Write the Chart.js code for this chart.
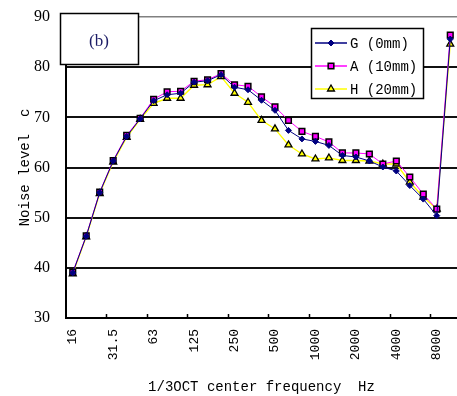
<!DOCTYPE html>
<html>
<head>
<meta charset="utf-8">
<script src="https://cdn.jsdelivr.net/npm/chart.js@4"></script>
<style>
  html, body { margin: 0; padding: 0; background: #fff; }
  canvas { display: block; }
</style>
</head>
<body>
<canvas id="c" width="457" height="396"></canvas>
<script>
// ---- data ----
const freqLabels = ['16','20','25','31.5','40','50','63','80','100','125','160','200','250','315','400','500','630','800','1000','1250','1600','2000','2500','3150','4000','5000','6300','8000','10000'];
const labelEvery = 3;
const G_0mm  = [39.0, 46.3, 55.0, 61.3, 66.2, 69.7, 73.3, 74.5, 74.8, 77.0, 77.3, 78.5, 76.0, 75.5, 73.4, 71.4, 67.4, 65.7, 65.2, 64.4, 62.4, 62.1, 61.3, 60.1, 59.3, 56.4, 53.7, 50.4, 85.6];
const A_10mm = [39.1, 46.4, 55.1, 61.4, 66.4, 69.8, 73.6, 75.1, 75.2, 77.2, 77.5, 78.7, 76.5, 76.2, 74.1, 72.1, 69.4, 67.2, 66.2, 65.1, 62.9, 62.9, 62.7, 60.7, 61.3, 58.1, 54.7, 51.7, 86.4];
const H_20mm = [38.8, 46.2, 54.8, 61.1, 66.0, 69.6, 72.8, 73.8, 73.8, 76.4, 76.5, 78.1, 74.8, 73.0, 69.4, 67.7, 64.5, 62.7, 61.7, 61.9, 61.4, 61.4, 61.3, 60.7, 60.7, 57.1, 54.1, 51.7, 84.6];
const seriesNames = ['G (0mm)', 'A (10mm)', 'H (20mm)'];
const yMin = 30, yMax = 90, yStep = 10;
const yTitle = 'Noise level  c';
const xTitle = '1/3OCT center frequency  Hz';
const panelLabel = '(b)';

const monoFont = '"Liberation Mono", "DejaVu Sans Mono", monospace';

// inward tick marks every 3 bands on the x axis
const xTickPlugin = {
  id: 'xTicks',
  afterDraw(chart) {
    const sx = chart.scales.x, ctx = chart.ctx;
    ctx.save();
    ctx.strokeStyle = '#000';
    ctx.lineWidth = 1.5;
    for (let k = labelEvery; k < freqLabels.length; k += labelEvery) {
      const x = Math.round((sx.getPixelForValue(k - 1) + sx.getPixelForValue(k)) / 2) + 0.5;
      ctx.beginPath();
      ctx.moveTo(x, sx.top);
      ctx.lineTo(x, sx.top - 4);
      ctx.stroke();
    }
    ctx.restore();
  }
};

// panel label box and in-plot legend box
const boxesPlugin = {
  id: 'boxes',
  afterDraw(chart) {
    const ctx = chart.ctx, ca = chart.chartArea;
    ctx.save();
    // (b) box
    const bx = ca.left - 6, by = ca.top - 4, bw = 78, bh = 51;
    ctx.fillStyle = '#fff';
    ctx.fillRect(bx, by, bw, bh);
    ctx.strokeStyle = '#000';
    ctx.lineWidth = 1.5;
    ctx.strokeRect(bx + 0.5, by + 0.5, bw, bh);
    ctx.fillStyle = '#1c1c66';
    ctx.font = '17px "Liberation Serif", serif';
    ctx.textAlign = 'center';
    ctx.textBaseline = 'middle';
    ctx.fillText(panelLabel, bx + bw / 2, by + 29);

    // legend
    const lx = 311, ly = 28, lw = 112, lh = 70;
    ctx.fillStyle = '#fff';
    ctx.fillRect(lx, ly, lw, lh);
    ctx.strokeStyle = '#000';
    ctx.lineWidth = 1.5;
    ctx.strokeRect(lx + 0.5, ly + 0.5, lw, lh);
    ctx.font = '14px ' + monoFont;
    ctx.textAlign = 'left';
    ctx.textBaseline = 'middle';
    chart.data.datasets.forEach((ds, i) => {
      const y = ly + 15 + i * 23;
      ctx.strokeStyle = ds.borderColor;
      ctx.lineWidth = 1.5;
      ctx.beginPath();
      ctx.moveTo(lx + 4, y);
      ctx.lineTo(lx + 36, y);
      ctx.stroke();
      ctx.fillStyle = ds.pointBackgroundColor;
      ctx.strokeStyle = ds.pointBorderColor;
      ctx.lineWidth = ds.pointBorderWidth;
      Chart.helpers.drawPoint(ctx, {pointStyle: ds.pointStyle, rotation: 0, radius: ds.pointRadius, borderWidth: ds.pointBorderWidth}, lx + 20, y);
      ctx.fillStyle = '#000';
      ctx.fillText(ds.label, lx + 39, y + 1);
    });
    ctx.restore();
  }
};

new Chart(document.getElementById('c'), {
  type: 'line',
  data: {
    labels: freqLabels,
    datasets: [
      { label: seriesNames[0], data: G_0mm, borderColor: '#000080', borderWidth: 1,
        pointStyle: 'rectRot', pointRadius: 3, pointBackgroundColor: '#000080', pointBorderColor: '#000080', pointBorderWidth: 1 },
      { label: seriesNames[1], data: A_10mm, borderColor: '#ff00ff', borderWidth: 1,
        pointStyle: 'rect', pointRadius: 4, pointBackgroundColor: '#ff00ff', pointBorderColor: '#000', pointBorderWidth: 1.5 },
      { label: seriesNames[2], data: H_20mm, borderColor: '#ffff00', borderWidth: 1.3,
        pointStyle: 'triangle', pointRadius: 4, pointBackgroundColor: '#ffff00', pointBorderColor: '#000', pointBorderWidth: 1.3 }
    ]
  },
  options: {
    responsive: false,
    animation: false,
    devicePixelRatio: 1,
    layout: { autoPadding: false, padding: { left: 0, top: 17, right: 0, bottom: 0 } },
    plugins: { legend: { display: false }, tooltip: { enabled: false } },
    elements: { line: { tension: 0 } },
    scales: {
      x: {
        offset: true,
        grid: { display: false, drawTicks: false },
        border: { display: true, color: '#000', width: 2 },
        ticks: {
          autoSkip: false, minRotation: 90, maxRotation: 90, padding: 11,
          color: '#000', font: { family: monoFont, size: 13 },
          callback: (v, i) => (i % labelEvery === 0 ? freqLabels[i] : '')
        },
        title: { display: true, text: xTitle, color: '#000', font: { family: monoFont, size: 14 }, padding: { top: 0, bottom: 0 } },
        afterFit: s => { s.height = 78; s.paddingLeft = 0; s.paddingRight = 0; }
      },
      y: {
        min: yMin, max: yMax,
        grid: {
          drawTicks: false,
          color: c => (c.tick.value === yMax ? '#808080' : (c.tick.value === yMin ? 'rgba(0,0,0,0)' : '#111')),
          lineWidth: c => (c.tick.value === yMax ? 1.5 : 2)
        },
        border: { display: true, color: '#000', width: 2 },
        ticks: { stepSize: yStep, padding: 16, color: '#000', font: { family: '"Liberation Serif", serif', size: 16 } },
        title: { display: true, text: yTitle, color: '#000', font: { family: monoFont, size: 14 }, padding: { top: 17, bottom: 0 } },
        afterFit: s => { s.width = 66; s.paddingTop = 0; s.paddingBottom = 0; }
      }
    }
  },
  plugins: [xTickPlugin, boxesPlugin]
});
</script>
</body>
</html>
